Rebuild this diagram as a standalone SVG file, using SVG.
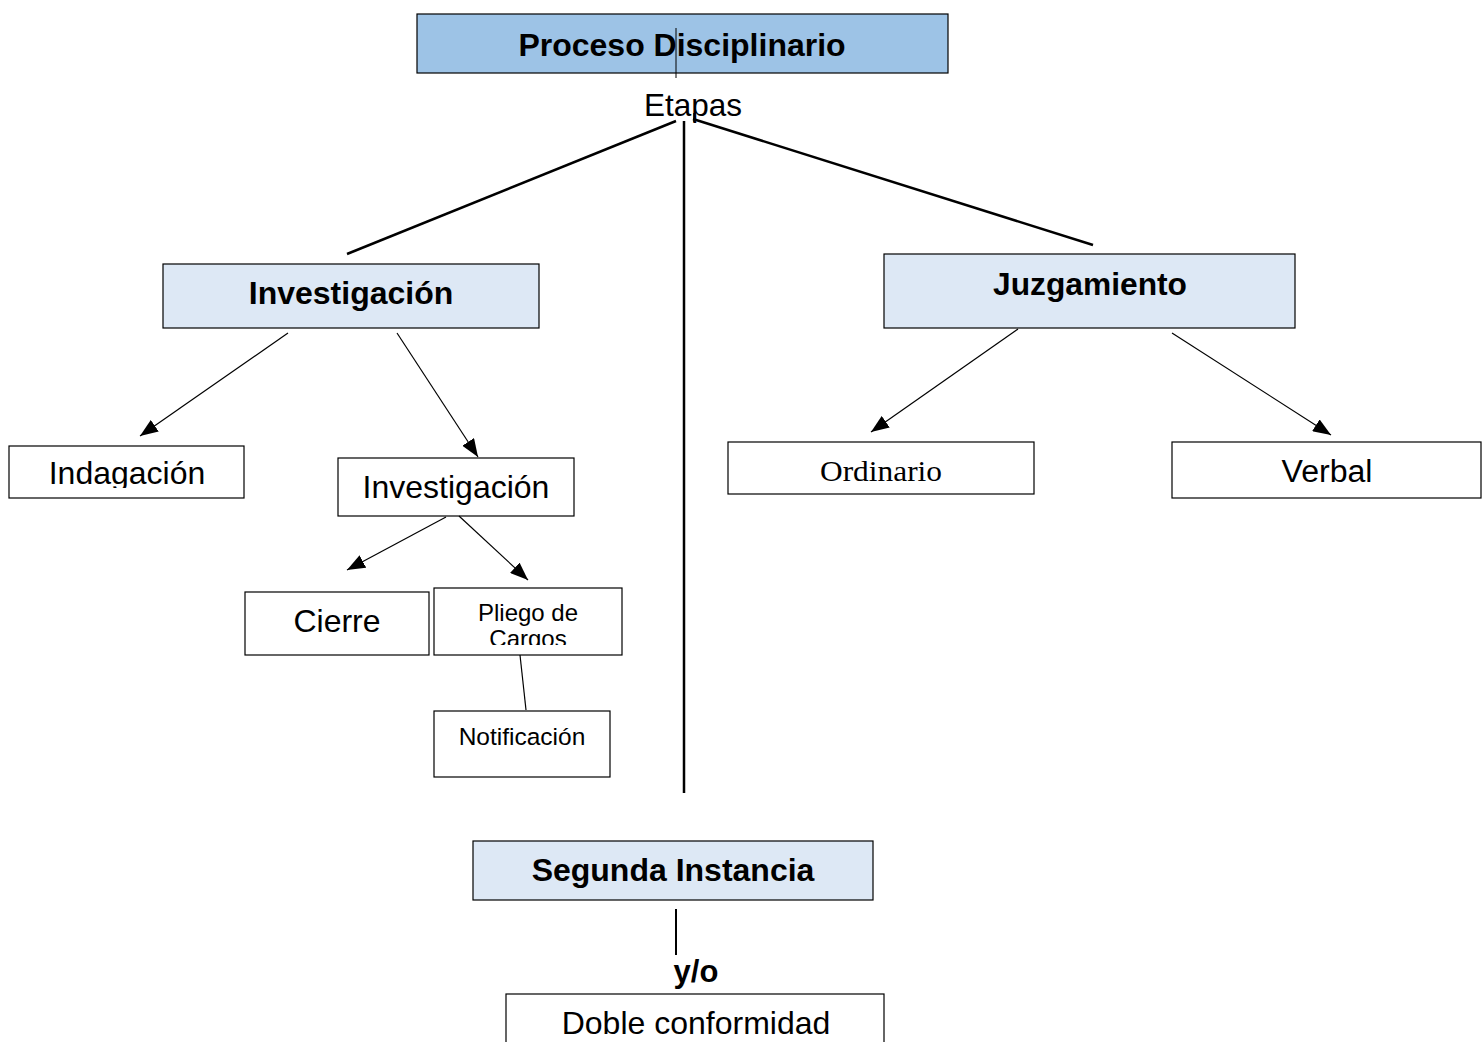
<svg xmlns="http://www.w3.org/2000/svg" width="1482" height="1042" viewBox="0 0 1482 1042">
<style>
.box{fill:#ffffff;stroke:#000;stroke-width:1.2}
.hd{fill:#dde8f5;stroke:#000;stroke-width:1.2}
.top{fill:#9dc3e6;stroke:#000;stroke-width:1.2}
text{font-family:"Liberation Sans",Arial,sans-serif;fill:#000;text-anchor:middle}
.b{font-weight:bold}
.c{stroke:#000;fill:none}
</style>
<defs>
<marker id="ah" markerUnits="userSpaceOnUse" markerWidth="20" markerHeight="14" refX="18" refY="7" orient="auto">
<path d="M0,0 L18,7 L0,14 Z" fill="#000"/>
</marker>
<clipPath id="clipInd"><rect x="0" y="440" width="260" height="48"/></clipPath>
<clipPath id="clipPl"><rect x="430" y="590" width="200" height="55"/></clipPath>
</defs>
<g id="proceso">
<rect class="top" x="417" y="14" width="531" height="59"/>
<text class="b" x="682" y="56" font-size="32">Proceso Disciplinario</text>
</g>
<g id="etapas">
<text x="693" y="116" font-size="31.5">Etapas</text>
</g>
<g id="investigacion-main">
<rect class="hd" x="163" y="264" width="376" height="64"/>
<text class="b" x="351" y="304" font-size="32">Investigación</text>
</g>
<g id="indagacion">
<rect class="box" x="9" y="446" width="235" height="52"/>
<text x="127" y="484" font-size="32" clip-path="url(#clipInd)">Indagación</text>
</g>
<g id="investigacion-sub">
<rect class="box" x="338" y="458" width="236" height="58"/>
<text x="456" y="498" font-size="32">Investigación</text>
</g>
<g id="cierre">
<rect class="box" x="245" y="592" width="184" height="63"/>
<text x="337" y="632" font-size="32">Cierre</text>
</g>
<g id="pliego">
<rect class="box" x="434" y="588" width="188" height="67"/>
<g clip-path="url(#clipPl)">
<text x="528" y="621" font-size="24">Pliego de</text>
<text x="528" y="647" font-size="24">Cargos</text>
</g>
</g>
<g id="notificacion">
<rect class="box" x="434" y="711" width="176" height="66"/>
<text x="522" y="745" font-size="24.5">Notificación</text>
</g>
<g id="juzgamiento">
<rect class="hd" x="884" y="254" width="411" height="74"/>
<text class="b" x="1090" y="295" font-size="31" textLength="194" lengthAdjust="spacingAndGlyphs">Juzgamiento</text>
</g>
<g id="ordinario">
<rect class="box" x="728" y="442" width="306" height="52"/>
<text x="881" y="481" font-size="29" style="font-family:'Liberation Serif','Times New Roman',serif" textLength="122" lengthAdjust="spacingAndGlyphs">Ordinario</text>
</g>
<g id="verbal">
<rect class="box" x="1172" y="442" width="309" height="56"/>
<text x="1327" y="482" font-size="31" textLength="91" lengthAdjust="spacingAndGlyphs">Verbal</text>
</g>
<g id="segunda">
<rect class="hd" x="473" y="841" width="400" height="59"/>
<text class="b" x="673" y="881" font-size="32">Segunda Instancia</text>
</g>
<g id="yo">
<text class="b" x="696" y="982" font-size="31">y/o</text>
</g>
<g id="doble">
<rect class="box" x="506" y="994" width="378" height="60"/>
<text x="696" y="1034" font-size="32">Doble conformidad</text>
</g>
<g id="connectors">
<line class="c" x1="676" y1="28" x2="676" y2="78" stroke-width="1"/>
<line class="c" x1="676" y1="121" x2="347" y2="254" stroke-width="2.5"/>
<line class="c" x1="684" y1="121" x2="684" y2="793" stroke-width="2.5"/>
<line class="c" x1="693" y1="119" x2="1093" y2="245" stroke-width="2.5"/>
<line class="c" x1="694" y1="113" x2="694" y2="122" stroke-width="1.5"/>
<line class="c" x1="288" y1="333" x2="140" y2="436" stroke-width="1.2" marker-end="url(#ah)"/>
<line class="c" x1="397" y1="333" x2="478" y2="457" stroke-width="1.2" marker-end="url(#ah)"/>
<line class="c" x1="446" y1="517" x2="347" y2="570" stroke-width="1.2" marker-end="url(#ah)"/>
<line class="c" x1="459" y1="516" x2="528" y2="580" stroke-width="1.2" marker-end="url(#ah)"/>
<line class="c" x1="520" y1="655" x2="526" y2="710" stroke-width="1.2"/>
<line class="c" x1="1018" y1="329" x2="871" y2="432" stroke-width="1.2" marker-end="url(#ah)"/>
<line class="c" x1="1172" y1="333" x2="1331" y2="435" stroke-width="1.2" marker-end="url(#ah)"/>
<line class="c" x1="676" y1="909" x2="676" y2="955" stroke-width="2"/>
</g>
</svg>
